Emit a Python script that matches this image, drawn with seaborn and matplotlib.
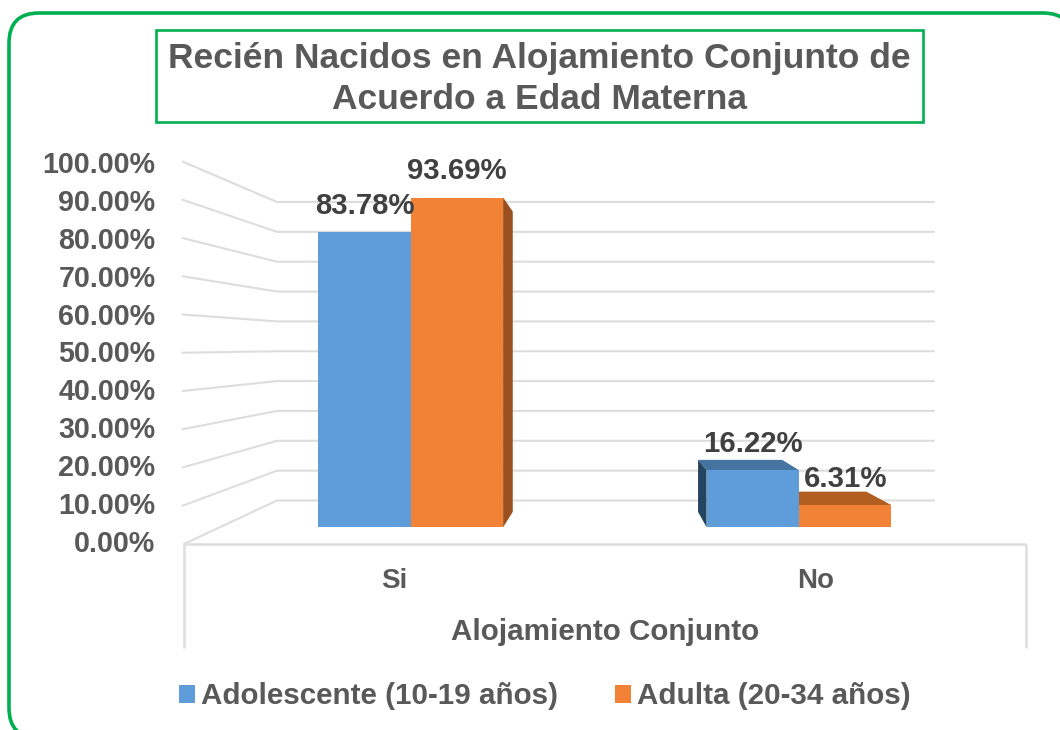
import numpy as np
import pandas as pd
import seaborn as sns
import matplotlib.pyplot as plt
from matplotlib.patches import FancyBboxPatch, Polygon, Rectangle
from matplotlib.ticker import FuncFormatter

categorias = ['Si', 'No']
adolescente = [83.78, 16.22]
adulta = [93.69, 6.31]
series = ['Adolescente (10-19 años)', 'Adulta (20-34 años)']
ticks_y = [0, 10, 20, 30, 40, 50, 60, 70, 80, 90, 100]
titulo = 'Recién Nacidos en Alojamiento Conjunto de\nAcuerdo a Edad Materna'
eje_x = 'Alojamiento Conjunto'

W, H = 1060, 730
GREEN = '#00B050'
GRID = '#DDDDDD'
GREY = '#595959'
# front, top, side colours of the fake 3d bars
BLUE = ['#5E9DD9', '#44749F', '#234560']
ORANGE = ['#F28236', '#B25E20', '#9A4F1E']
# vanishing point and depth of the 3d look, in pixels
VP = (611.0, 354.5)
DEPTH = 0.0893

sns.set_theme(style='white')
plt.rcParams['font.family'] = ['Liberation Sans', 'DejaVu Sans']
plt.rcParams['font.weight'] = 'bold'
plt.rcParams['axes.labelweight'] = 'bold'


def px_axes(fig, x0, x1, ytop, ybot, **kw):
    return fig.add_axes([x0 / W, 1 - ybot / H, (x1 - x0) / W, (ybot - ytop) / H], **kw)


fig = plt.figure(figsize=(W / 100, H / 100), dpi=100, facecolor='white')

# whole figure in pixels, for frame and walls
bg = px_axes(fig, 0, W, 0, H, zorder=0)
bg.set_xlim(0, W)
bg.set_ylim(H, 0)
bg.axis('off')

bg.add_patch(FancyBboxPatch((9, 13), 1064, 725, boxstyle='round,pad=0,rounding_size=30',
                            fc='white', ec=GREEN, lw=2.6))
bg.add_patch(Rectangle((156, 30), 767, 92, fc='white', ec=GREEN, lw=1.9))
bg.text(539.5, 79, titulo, ha='center', va='center', fontsize=25.5, color=GREY,
        linespacing=1.27)

# axis with the labels, on the front edge of the floor
wall = px_axes(fig, 184, 1026, 162, 541, zorder=1)
wall.patch.set_visible(False)
wall.set_xlim(-0.5, 1.5)
wall.set_ylim(0, 100)
wall.set_xticks(range(len(categorias)), categorias)
wall.set_yticks(ticks_y)
wall.yaxis.set_major_formatter(FuncFormatter(lambda v, p: f'{v:.2f}%'))
wall.tick_params(axis='y', length=0, pad=20.5, labelsize=20.6, labelcolor=GREY)
wall.tick_params(axis='x', length=0, pad=19.1, labelsize=20, labelcolor=GREY)
wall.set_xlabel(eje_x, fontsize=21.3, color=GREY, labelpad=17.5)
for s in wall.spines.values():
    s.set_visible(False)

# floor edge and both side lines
bg.plot([184, 1026], [544, 544], color=GRID, lw=1.8, solid_capstyle='butt')
bg.plot([184, 184], [544, 648], color=GRID, lw=1.8, solid_capstyle='butt')
bg.plot([1026, 1026], [544, 648], color=GRID, lw=1.8, solid_capstyle='butt')

# side wall and back wall lines
for v in ticks_y:
    y_front = 544 - 3.825 * v
    y_back = 500.5 - 2.985 * v
    bg.plot([184 if v == 0 else 182.5, 277, 934], [y_front, y_back, y_back],
            color=GRID, lw=1.5, solid_joinstyle='miter')

# bars
df = pd.DataFrame({
    'cat': categorias * 2,
    'serie': [series[0]] * 2 + [series[1]] * 2,
    'valor': adolescente + adulta,
})
ax = px_axes(fig, 216.55, 993.15, 175.3, 527.3, zorder=2)
ax.patch.set_visible(False)
sns.barplot(data=df, x='cat', y='valor', hue='serie', palette=[BLUE[0], ORANGE[0]],
            width=0.476, saturation=1, ax=ax, zorder=3, linewidth=0)
ax.set_xlim(-0.5, 1.5)
ax.set_ylim(0, 100)
ax.axis('off')


def to_px(x, y):
    return bg.transData.inverted().transform(ax.transData.transform((x, y)))


def back(p):
    return (p[0] + DEPTH * (VP[0] - p[0]), p[1] + DEPTH * (VP[1] - p[1]))


for cont, cols in zip(ax.containers, [BLUE, ORANGE]):
    for bar in cont:
        x0, x1 = bar.get_x(), bar.get_x() + bar.get_width()
        tl, tr = to_px(x0, bar.get_height()), to_px(x1, bar.get_height())
        bl, br = to_px(x0, 0), to_px(x1, 0)
        if tl[1] > VP[1]:
            ax.add_patch(Polygon([tl, tr, back(tr), back(tl)], fc=cols[1], ec='none',
                                 transform=bg.transData, zorder=2, clip_on=False))
        if tl[0] > VP[0]:
            ax.add_patch(Polygon([tl, bl, back(bl), back(tl)], fc=cols[2], ec='none',
                                 transform=bg.transData, zorder=2, clip_on=False))
        if tr[0] < VP[0]:
            ax.add_patch(Polygon([tr, br, back(br), back(tr)], fc=cols[2], ec='none',
                                 transform=bg.transData, zorder=2, clip_on=False))
    ax.bar_label(cont, labels=[f'{b.get_height():.2f}%' for b in cont], padding=9,
                 fontsize=21.2, color='#404040', fontweight='bold', zorder=5)

handles = ax.get_legend().legend_handles
ax.get_legend().remove()
fig.legend(handles, series, ncol=2, loc='center', bbox_to_anchor=(545 / W, 1 - 696.5 / H),
           frameon=False, fontsize=21.3, labelcolor=GREY, borderpad=0, borderaxespad=0,
           handlelength=0.55, handleheight=0.55, handletextpad=0.2, columnspacing=1.92)

fig.savefig('out.png', dpi=100)
